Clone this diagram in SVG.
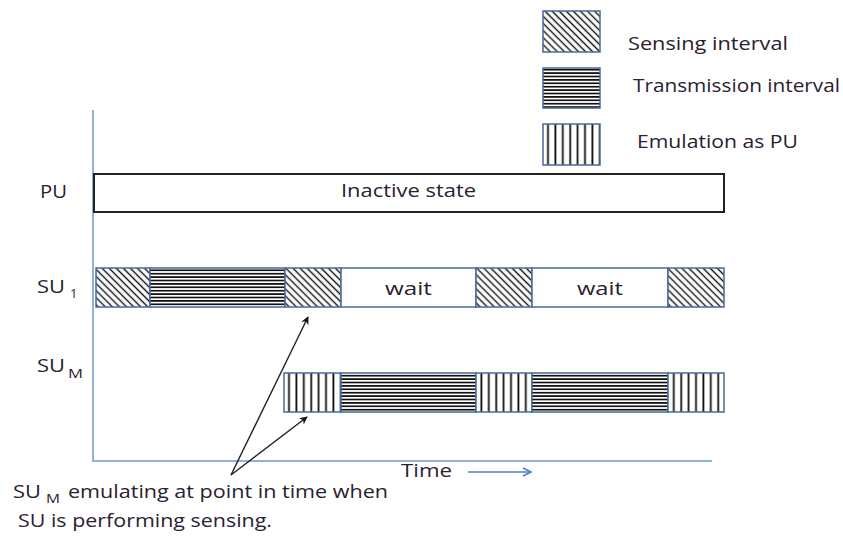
<svg xmlns="http://www.w3.org/2000/svg" width="843" height="538" viewBox="0 0 843 538">
  <defs>
    <pattern id="sense" patternUnits="userSpaceOnUse" width="5" height="5" patternTransform="rotate(45)">
      <rect width="5" height="5" fill="#fff"/>
      <line x1="0" y1="2.5" x2="5" y2="2.5" stroke="#111" stroke-width="1.4"/>
    </pattern>
    <pattern id="tx" patternUnits="userSpaceOnUse" width="10" height="3.4">
      <rect width="10" height="3.4" fill="#fff"/>
      <line x1="0" y1="1.7" x2="10" y2="1.7" stroke="#111" stroke-width="1.7"/>
    </pattern>
    <pattern id="emu" patternUnits="userSpaceOnUse" width="7.4" height="10" x="284">
      <rect width="7.4" height="10" fill="#fff"/>
      <line x1="5" y1="0" x2="5" y2="10" stroke="#111" stroke-width="1.8"/>
    </pattern>
    <marker id="ah" viewBox="0 0 10 10" refX="9" refY="5" markerWidth="8" markerHeight="8" orient="auto" markerUnits="userSpaceOnUse">
      <path d="M0,0 L10,5 L0,10 L3,5 z" fill="#111"/>
    </marker>
    <marker id="ahb" viewBox="0 0 10 10" refX="9" refY="5" markerWidth="10" markerHeight="10" orient="auto" markerUnits="userSpaceOnUse">
      <path d="M1,1 L9,5 L1,9" fill="none" stroke="#4f81bd" stroke-width="1.6"/>
    </marker>
  </defs>
  <style>
    text { font-family: "Open Sans", "Liberation Sans", sans-serif; fill: #2a2030; }
    .lbl { font-size: 19px; }
    .sub { font-size: 13px; }
    .seg { stroke: #4a6a9a; stroke-width: 1.5; }
    .axis { stroke: #8fb2dc; stroke-width: 2; fill: none; }
  </style>
  <rect width="843" height="538" fill="#fff"/>

  <!-- axes -->
  <g id="axes">
    <polyline class="axis" points="93,110 93,461 712,461"/>
    <text class="lbl" x="401" y="477" textLength="51" lengthAdjust="spacingAndGlyphs">Time</text>
    <line x1="468" y1="472" x2="531" y2="472" stroke="#4f81bd" stroke-width="1.6" marker-end="url(#ahb)"/>
  </g>

  <!-- legend -->
  <g id="legend">
    <rect class="seg" x="543" y="11" width="57" height="41" fill="url(#sense)"/>
    <text class="lbl" x="628" y="50" textLength="160" lengthAdjust="spacingAndGlyphs">Sensing interval</text>
    <rect class="seg" x="543" y="68" width="57" height="40" fill="url(#tx)"/>
    <text class="lbl" x="633" y="92" textLength="207" lengthAdjust="spacingAndGlyphs">Transmission interval</text>
    <rect class="seg" x="543" y="124" width="57" height="41" fill="url(#emu)"/>
    <text class="lbl" x="637" y="148" textLength="161" lengthAdjust="spacingAndGlyphs">Emulation as PU</text>
  </g>

  <!-- PU row -->
  <g id="pu">
    <text class="lbl" x="40" y="198" textLength="27" lengthAdjust="spacingAndGlyphs">PU</text>
    <rect x="94" y="174" width="630" height="38" fill="#fff" stroke="#222" stroke-width="2"/>
    <text class="lbl" x="341" y="197" textLength="135" lengthAdjust="spacingAndGlyphs">Inactive state</text>
  </g>

  <!-- SU1 row -->
  <g id="su1">
    <text class="lbl" x="37" y="293" textLength="28" lengthAdjust="spacingAndGlyphs">SU</text>
    <text class="sub" x="70" y="298">1</text>
    <rect class="seg" x="96" y="268" width="54" height="39" fill="url(#sense)"/>
    <rect class="seg" x="150" y="268" width="135" height="39" fill="url(#tx)"/>
    <rect class="seg" x="285" y="268" width="56" height="39" fill="url(#sense)"/>
    <rect class="seg" x="341" y="268" width="135" height="39" fill="#fff"/>
    <text class="lbl" x="385" y="295" textLength="47" lengthAdjust="spacingAndGlyphs">wait</text>
    <rect class="seg" x="476" y="268" width="56" height="39" fill="url(#sense)"/>
    <rect class="seg" x="532" y="268" width="136" height="39" fill="#fff"/>
    <text class="lbl" x="577" y="295" textLength="46" lengthAdjust="spacingAndGlyphs">wait</text>
    <rect class="seg" x="668" y="268" width="56" height="39" fill="url(#sense)"/>
  </g>

  <!-- SUM row -->
  <g id="sum">
    <text class="lbl" x="37" y="372" textLength="28" lengthAdjust="spacingAndGlyphs">SU</text>
    <text class="sub" x="68" y="378" textLength="15" lengthAdjust="spacingAndGlyphs">M</text>
    <rect class="seg" x="284" y="373" width="57" height="39" fill="url(#emu)"/>
    <rect class="seg" x="341" y="373" width="135" height="39" fill="url(#tx)"/>
    <rect class="seg" x="476" y="373" width="56" height="39" fill="url(#emu)"/>
    <rect class="seg" x="532" y="373" width="136" height="39" fill="url(#tx)"/>
    <rect class="seg" x="668" y="373" width="56" height="39" fill="url(#emu)"/>
  </g>

  <!-- connectors -->
  <g id="connectors" stroke="#222" stroke-width="1.4" fill="none">
    <line x1="231" y1="475" x2="308" y2="317" marker-end="url(#ah)"/>
    <line x1="231" y1="475" x2="307" y2="417" marker-end="url(#ah)"/>
  </g>

  <!-- caption -->
  <g id="caption">
    <text class="lbl" x="13" y="498" textLength="28" lengthAdjust="spacingAndGlyphs">SU</text>
    <text class="sub" x="46" y="503" textLength="14" lengthAdjust="spacingAndGlyphs">M</text>
    <text class="lbl" x="68" y="498" textLength="320" lengthAdjust="spacingAndGlyphs">emulating at point in time when</text>
    <text class="lbl" x="18" y="527" textLength="254" lengthAdjust="spacingAndGlyphs">SU is performing sensing.</text>
  </g>
</svg>
